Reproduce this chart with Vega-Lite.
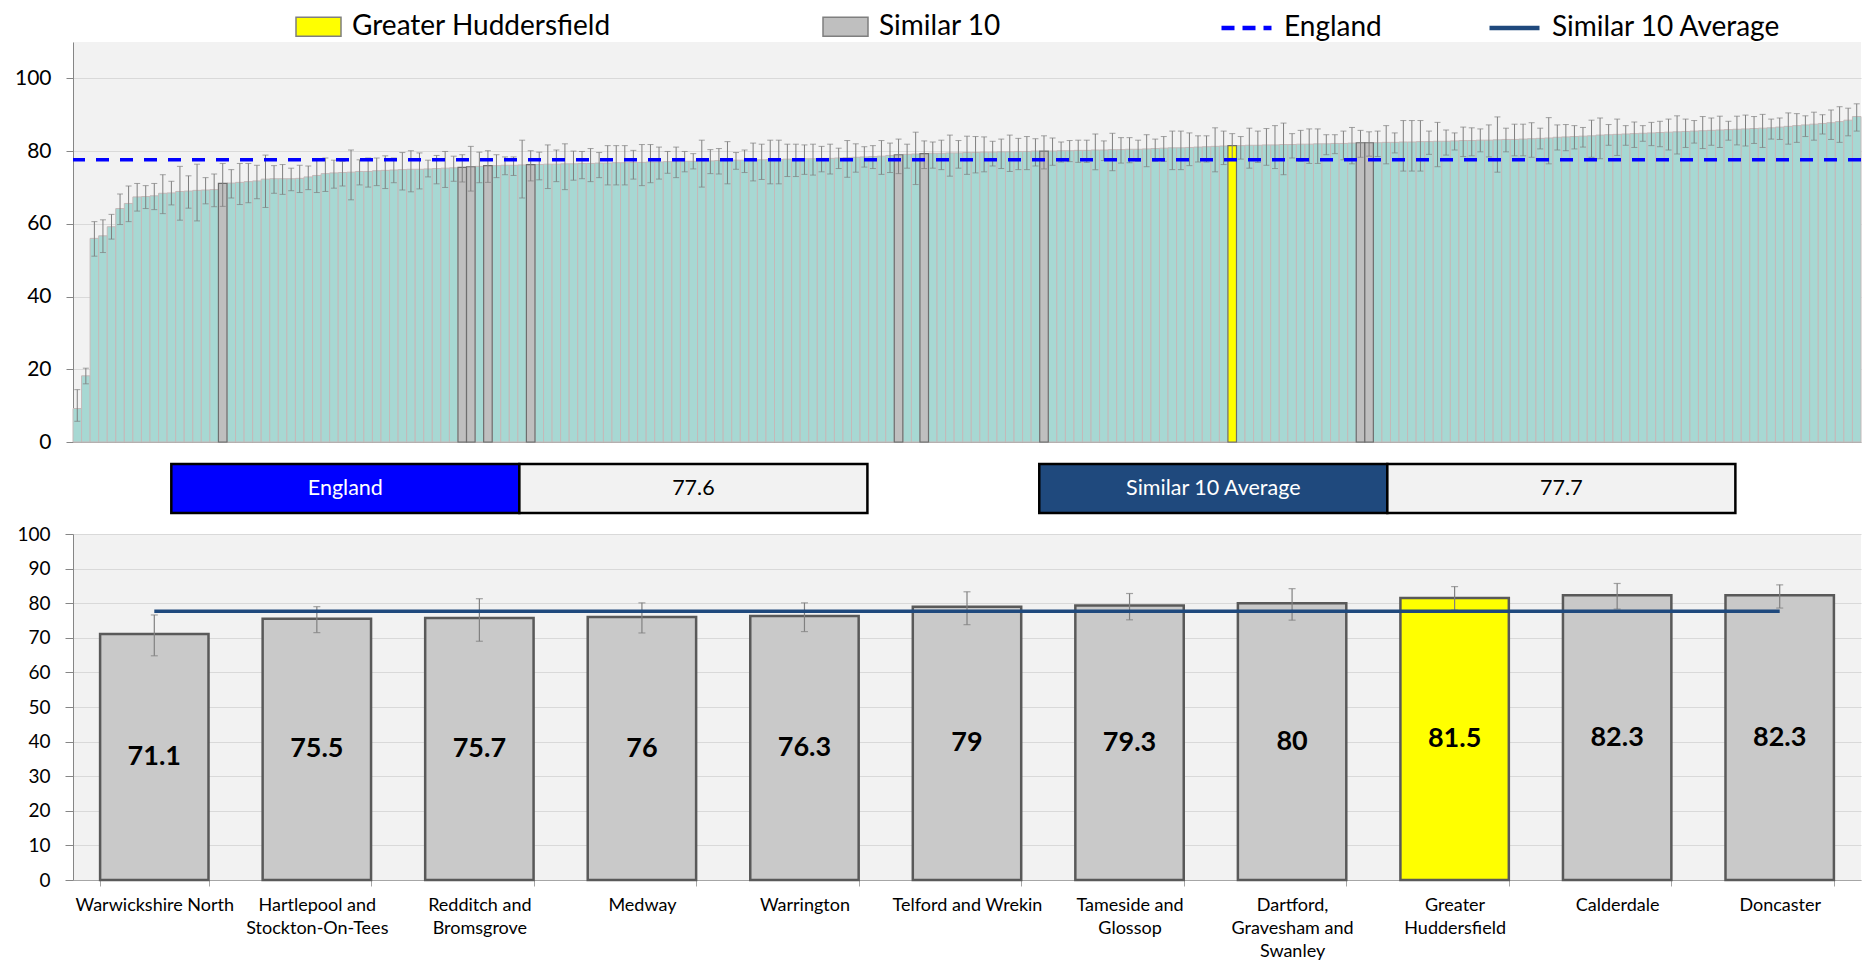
{
  "$schema": "https://vega.github.io/schema/vega-lite/v6.json",
  "background": "white",
  "padding": {"left": 14, "top": 0, "right": 0, "bottom": 0},
  "spacing": 10,
  "config": {
    "font": "Lato",
    "view": {"stroke": null, "fill": "#F2F2F2"},
    "axis": {"labelFont": "Lato", "labelColor": "#000000", "domainColor": "#868686", "tickColor": "#868686", "gridColor": "#D9D9D9"},
    "legend": {"labelFont": "Lato", "labelFontSize": 28, "labelColor": "#000000", "labelOffset": 10, "labelLimit": 600, "title": null, "orient": "none", "direction": "horizontal", "symbolOpacity": 1}
  },
  "datasets": {
    "benchmarks": [
      {"name": "England", "value": 77.6},
      {"name": "Similar 10 Average", "value": 77.7}
    ],
    "areas": [
      {"rank":1,"value":9.2,"lo":5.7,"hi":14.4},
      {"rank":2,"value":18.2,"lo":16.0,"hi":20.3},
      {"rank":3,"value":56.0,"lo":51.1,"hi":60.6},
      {"rank":4,"value":56.7,"lo":52.1,"hi":61.1},
      {"rank":5,"value":59.2,"lo":55.8,"hi":62.6},
      {"rank":6,"value":64.2,"lo":59.8,"hi":68.2},
      {"rank":7,"value":65.6,"lo":60.6,"hi":70.4},
      {"rank":8,"value":67.4,"lo":63.5,"hi":71.1},
      {"rank":9,"value":67.5,"lo":64.2,"hi":70.5},
      {"rank":10,"value":67.7,"lo":63.9,"hi":71.1},
      {"rank":11,"value":68.4,"lo":62.8,"hi":73.5},
      {"rank":12,"value":68.5,"lo":65.2,"hi":71.7},
      {"rank":13,"value":68.9,"lo":61.0,"hi":75.8},
      {"rank":14,"value":69.0,"lo":64.3,"hi":73.2},
      {"rank":15,"value":69.2,"lo":60.8,"hi":76.4},
      {"rank":16,"value":69.3,"lo":65.5,"hi":72.7},
      {"rank":17,"value":69.4,"lo":64.7,"hi":73.7},
      {"rank":18,"value":71.1,"lo":64.8,"hi":76.6,"area":"Warwickshire North","group":"Similar 10"},
      {"rank":19,"value":71.2,"lo":67.1,"hi":74.9},
      {"rank":20,"value":71.4,"lo":65.3,"hi":76.6},
      {"rank":21,"value":71.6,"lo":65.8,"hi":76.6},
      {"rank":22,"value":71.8,"lo":66.9,"hi":76.1},
      {"rank":23,"value":72.3,"lo":64.5,"hi":78.9},
      {"rank":24,"value":72.4,"lo":68.4,"hi":76.0},
      {"rank":25,"value":72.4,"lo":68.1,"hi":76.3},
      {"rank":26,"value":72.4,"lo":69.1,"hi":75.3},
      {"rank":27,"value":72.5,"lo":68.6,"hi":76.1},
      {"rank":28,"value":72.9,"lo":69.4,"hi":75.9},
      {"rank":29,"value":73.3,"lo":68.6,"hi":77.8},
      {"rank":30,"value":73.8,"lo":68.9,"hi":78.1},
      {"rank":31,"value":74.0,"lo":69.8,"hi":77.5},
      {"rank":32,"value":74.1,"lo":70.4,"hi":77.2},
      {"rank":33,"value":74.2,"lo":66.6,"hi":80.3},
      {"rank":34,"value":74.4,"lo":70.7,"hi":77.6},
      {"rank":35,"value":74.4,"lo":70.1,"hi":78.1},
      {"rank":36,"value":74.6,"lo":70.5,"hi":78.1},
      {"rank":37,"value":74.7,"lo":69.7,"hi":78.7},
      {"rank":38,"value":74.8,"lo":71.3,"hi":78.1},
      {"rank":39,"value":74.9,"lo":69.3,"hi":79.6},
      {"rank":40,"value":75.0,"lo":68.8,"hi":80.1},
      {"rank":41,"value":75.0,"lo":69.6,"hi":79.5},
      {"rank":42,"value":75.1,"lo":72.9,"hi":77.5},
      {"rank":43,"value":75.2,"lo":71.0,"hi":78.8},
      {"rank":44,"value":75.3,"lo":70.0,"hi":79.9},
      {"rank":45,"value":75.4,"lo":71.7,"hi":78.6},
      {"rank":46,"value":75.5,"lo":71.5,"hi":79.0,"area":"Hartlepool and Stockton-On-Tees","group":"Similar 10"},
      {"rank":47,"value":75.7,"lo":69.0,"hi":81.3,"area":"Redditch and Bromsgrove","group":"Similar 10"},
      {"rank":48,"value":75.8,"lo":71.3,"hi":79.7},
      {"rank":49,"value":76.0,"lo":71.4,"hi":80.1,"area":"Medway","group":"Similar 10"},
      {"rank":50,"value":76.0,"lo":72.7,"hi":79.0},
      {"rank":51,"value":76.1,"lo":73.5,"hi":78.4},
      {"rank":52,"value":76.1,"lo":73.3,"hi":78.4},
      {"rank":53,"value":76.2,"lo":67.1,"hi":83.0},
      {"rank":54,"value":76.3,"lo":71.8,"hi":80.1,"area":"Warrington","group":"Similar 10"},
      {"rank":55,"value":76.3,"lo":72.1,"hi":79.7},
      {"rank":56,"value":76.4,"lo":69.7,"hi":81.7},
      {"rank":57,"value":76.4,"lo":71.6,"hi":80.3},
      {"rank":58,"value":76.5,"lo":69.4,"hi":82.0},
      {"rank":59,"value":76.5,"lo":72.0,"hi":80.0},
      {"rank":60,"value":76.6,"lo":72.4,"hi":79.9},
      {"rank":61,"value":76.6,"lo":71.6,"hi":80.7},
      {"rank":62,"value":76.7,"lo":72.7,"hi":79.6},
      {"rank":63,"value":76.7,"lo":70.7,"hi":81.5},
      {"rank":64,"value":76.8,"lo":70.7,"hi":81.5},
      {"rank":65,"value":76.8,"lo":70.7,"hi":81.5},
      {"rank":66,"value":76.9,"lo":72.3,"hi":80.2},
      {"rank":67,"value":76.9,"lo":70.5,"hi":81.8},
      {"rank":68,"value":77.0,"lo":71.3,"hi":81.8},
      {"rank":69,"value":77.0,"lo":72.3,"hi":81.1},
      {"rank":70,"value":77.1,"lo":73.9,"hi":79.9},
      {"rank":71,"value":77.1,"lo":72.7,"hi":81.1},
      {"rank":72,"value":77.2,"lo":74.3,"hi":79.9},
      {"rank":73,"value":77.2,"lo":75.1,"hi":79.3},
      {"rank":74,"value":77.3,"lo":70.1,"hi":83.0},
      {"rank":75,"value":77.3,"lo":73.8,"hi":80.4},
      {"rank":76,"value":77.4,"lo":73.7,"hi":80.7},
      {"rank":77,"value":77.4,"lo":71.0,"hi":82.6},
      {"rank":78,"value":77.5,"lo":75.0,"hi":79.6},
      {"rank":79,"value":77.5,"lo":74.1,"hi":80.3},
      {"rank":80,"value":77.6,"lo":71.8,"hi":82.2},
      {"rank":81,"value":77.6,"lo":72.2,"hi":81.9},
      {"rank":82,"value":77.7,"lo":71.0,"hi":83.0},
      {"rank":83,"value":77.7,"lo":71.0,"hi":83.0},
      {"rank":84,"value":77.8,"lo":73.0,"hi":81.9},
      {"rank":85,"value":77.8,"lo":73.0,"hi":81.9},
      {"rank":86,"value":77.9,"lo":73.6,"hi":81.7},
      {"rank":87,"value":77.9,"lo":73.4,"hi":81.9},
      {"rank":88,"value":78.0,"lo":74.3,"hi":81.3},
      {"rank":89,"value":78.0,"lo":73.7,"hi":81.9},
      {"rank":90,"value":78.1,"lo":75.2,"hi":80.8},
      {"rank":91,"value":78.2,"lo":72.8,"hi":82.9},
      {"rank":92,"value":78.3,"lo":74.2,"hi":82.0},
      {"rank":93,"value":78.4,"lo":75.6,"hi":81.2},
      {"rank":94,"value":78.5,"lo":75.2,"hi":81.5},
      {"rank":95,"value":78.6,"lo":73.6,"hi":82.9},
      {"rank":96,"value":78.8,"lo":74.1,"hi":82.2},
      {"rank":97,"value":79.0,"lo":73.8,"hi":83.3,"area":"Telford and Wrekin","group":"Similar 10"},
      {"rank":98,"value":79.1,"lo":75.3,"hi":81.9},
      {"rank":99,"value":79.2,"lo":70.8,"hi":85.2},
      {"rank":100,"value":79.3,"lo":75.2,"hi":82.8,"area":"Tameside and Glossop","group":"Similar 10"},
      {"rank":101,"value":79.4,"lo":75.3,"hi":82.5},
      {"rank":102,"value":79.4,"lo":74.9,"hi":83.0},
      {"rank":103,"value":79.5,"lo":73.1,"hi":84.4},
      {"rank":104,"value":79.5,"lo":75.3,"hi":82.9},
      {"rank":105,"value":79.6,"lo":73.6,"hi":84.1},
      {"rank":106,"value":79.6,"lo":74.0,"hi":84.0},
      {"rank":107,"value":79.7,"lo":74.3,"hi":83.9},
      {"rank":108,"value":79.7,"lo":75.9,"hi":82.7},
      {"rank":109,"value":79.8,"lo":75.2,"hi":83.3},
      {"rank":110,"value":79.8,"lo":74.4,"hi":84.4},
      {"rank":111,"value":79.9,"lo":74.9,"hi":83.5},
      {"rank":112,"value":79.9,"lo":74.9,"hi":84.0},
      {"rank":113,"value":80.0,"lo":75.9,"hi":83.4},
      {"rank":114,"value":80.0,"lo":75.1,"hi":84.2,"area":"Dartford, Gravesham and Swanley","group":"Similar 10"},
      {"rank":115,"value":80.0,"lo":76.1,"hi":83.6},
      {"rank":116,"value":80.1,"lo":77.0,"hi":82.5},
      {"rank":117,"value":80.1,"lo":77.1,"hi":82.9},
      {"rank":118,"value":80.2,"lo":76.9,"hi":83.0},
      {"rank":119,"value":80.2,"lo":76.9,"hi":83.0},
      {"rank":120,"value":80.3,"lo":74.9,"hi":84.7},
      {"rank":121,"value":80.3,"lo":77.4,"hi":82.8},
      {"rank":122,"value":80.4,"lo":74.6,"hi":84.9},
      {"rank":123,"value":80.4,"lo":76.7,"hi":83.7},
      {"rank":124,"value":80.5,"lo":76.8,"hi":83.7},
      {"rank":125,"value":80.5,"lo":77.2,"hi":83.0},
      {"rank":126,"value":80.6,"lo":75.7,"hi":84.5},
      {"rank":127,"value":80.7,"lo":77.2,"hi":83.3},
      {"rank":128,"value":80.8,"lo":77.2,"hi":84.0},
      {"rank":129,"value":80.9,"lo":74.9,"hi":85.5},
      {"rank":130,"value":80.9,"lo":74.9,"hi":85.5},
      {"rank":131,"value":81.0,"lo":76.0,"hi":85.0},
      {"rank":132,"value":81.1,"lo":77.0,"hi":84.2},
      {"rank":133,"value":81.2,"lo":77.0,"hi":84.2},
      {"rank":134,"value":81.3,"lo":74.3,"hi":86.4},
      {"rank":135,"value":81.4,"lo":76.3,"hi":85.5},
      {"rank":136,"value":81.5,"lo":78.0,"hi":84.8,"area":"Greater Huddersfield","group":"Greater Huddersfield"},
      {"rank":137,"value":81.5,"lo":77.8,"hi":84.0},
      {"rank":138,"value":81.6,"lo":75.3,"hi":86.3},
      {"rank":139,"value":81.6,"lo":76.9,"hi":85.5},
      {"rank":140,"value":81.7,"lo":76.1,"hi":86.2},
      {"rank":141,"value":81.7,"lo":75.2,"hi":87.0},
      {"rank":142,"value":81.8,"lo":73.5,"hi":87.7},
      {"rank":143,"value":81.8,"lo":78.1,"hi":84.8},
      {"rank":144,"value":81.9,"lo":77.2,"hi":85.7},
      {"rank":145,"value":81.9,"lo":76.6,"hi":86.1},
      {"rank":146,"value":82.0,"lo":76.6,"hi":86.1},
      {"rank":147,"value":82.0,"lo":79.0,"hi":84.5},
      {"rank":148,"value":82.1,"lo":79.3,"hi":84.5},
      {"rank":149,"value":82.1,"lo":77.6,"hi":85.5},
      {"rank":150,"value":82.2,"lo":76.5,"hi":86.5},
      {"rank":151,"value":82.3,"lo":78.3,"hi":85.7,"area":"Calderdale","group":"Similar 10"},
      {"rank":152,"value":82.3,"lo":78.6,"hi":85.3,"area":"Doncaster","group":"Similar 10"},
      {"rank":153,"value":82.3,"lo":78.5,"hi":85.5},
      {"rank":154,"value":82.4,"lo":76.5,"hi":87.0},
      {"rank":155,"value":82.4,"lo":79.5,"hi":85.0},
      {"rank":156,"value":82.5,"lo":74.5,"hi":88.4},
      {"rank":157,"value":82.5,"lo":74.5,"hi":88.4},
      {"rank":158,"value":82.6,"lo":74.5,"hi":88.4},
      {"rank":159,"value":82.6,"lo":79.1,"hi":85.5},
      {"rank":160,"value":82.7,"lo":75.7,"hi":87.9},
      {"rank":161,"value":82.7,"lo":78.9,"hi":85.8},
      {"rank":162,"value":82.8,"lo":80.3,"hi":85.0},
      {"rank":163,"value":82.9,"lo":78.5,"hi":86.6},
      {"rank":164,"value":82.9,"lo":78.7,"hi":86.4},
      {"rank":165,"value":83.0,"lo":79.8,"hi":86.1},
      {"rank":166,"value":83.0,"lo":78.4,"hi":87.2},
      {"rank":167,"value":83.1,"lo":74.2,"hi":89.4},
      {"rank":168,"value":83.2,"lo":79.8,"hi":86.3},
      {"rank":169,"value":83.2,"lo":78.7,"hi":87.4},
      {"rank":170,"value":83.3,"lo":78.7,"hi":87.4},
      {"rank":171,"value":83.4,"lo":78.3,"hi":87.8},
      {"rank":172,"value":83.5,"lo":80.6,"hi":86.3},
      {"rank":173,"value":83.6,"lo":76.5,"hi":89.2},
      {"rank":174,"value":83.8,"lo":80.3,"hi":87.2},
      {"rank":175,"value":83.9,"lo":80.1,"hi":87.3},
      {"rank":176,"value":84.0,"lo":80.6,"hi":87.0},
      {"rank":177,"value":84.1,"lo":81.1,"hi":86.5},
      {"rank":178,"value":84.2,"lo":78.3,"hi":88.5},
      {"rank":179,"value":84.4,"lo":77.9,"hi":89.1},
      {"rank":180,"value":84.5,"lo":81.6,"hi":87.3},
      {"rank":181,"value":84.6,"lo":78.8,"hi":88.8},
      {"rank":182,"value":84.7,"lo":81.6,"hi":87.0},
      {"rank":183,"value":84.8,"lo":81.0,"hi":88.0},
      {"rank":184,"value":84.9,"lo":82.7,"hi":87.0},
      {"rank":185,"value":85.0,"lo":81.5,"hi":87.9},
      {"rank":186,"value":85.1,"lo":81.2,"hi":88.2},
      {"rank":187,"value":85.2,"lo":80.3,"hi":88.8},
      {"rank":188,"value":85.3,"lo":79.2,"hi":89.7},
      {"rank":189,"value":85.4,"lo":81.0,"hi":88.8},
      {"rank":190,"value":85.5,"lo":82.2,"hi":88.4},
      {"rank":191,"value":85.6,"lo":80.7,"hi":89.5},
      {"rank":192,"value":85.7,"lo":81.6,"hi":89.1},
      {"rank":193,"value":85.8,"lo":81.0,"hi":89.6},
      {"rank":194,"value":85.9,"lo":83.0,"hi":88.2},
      {"rank":195,"value":86.0,"lo":81.7,"hi":89.6},
      {"rank":196,"value":86.1,"lo":81.4,"hi":89.9},
      {"rank":197,"value":86.2,"lo":82.1,"hi":89.5},
      {"rank":198,"value":86.3,"lo":81.0,"hi":90.1},
      {"rank":199,"value":86.4,"lo":83.3,"hi":88.8},
      {"rank":200,"value":86.6,"lo":83.2,"hi":89.1},
      {"rank":201,"value":86.8,"lo":81.9,"hi":90.5},
      {"rank":202,"value":87.0,"lo":82.4,"hi":90.3},
      {"rank":203,"value":87.2,"lo":84.0,"hi":89.7},
      {"rank":204,"value":87.4,"lo":83.0,"hi":90.7},
      {"rank":205,"value":87.6,"lo":84.7,"hi":90.0},
      {"rank":206,"value":87.8,"lo":83.2,"hi":91.3},
      {"rank":207,"value":88.1,"lo":82.4,"hi":92.2},
      {"rank":208,"value":88.5,"lo":84.2,"hi":91.8},
      {"rank":209,"value":89.5,"lo":85.5,"hi":93.0}
    ]
  },
  "vconcat": [
    {
      "width": 1788,
      "height": 400,
      "encoding": {
        "x": {"field": "rank", "type": "ordinal", "scale": {"paddingInner": 0, "paddingOuter": 0}, "axis": {"labels": false, "ticks": false, "title": null, "domainColor": "#A6A6A6"}}
      },
      "layer": [
        {
          "data": {"name": "areas"},
          "transform": [{"filter": "!isValid(datum.area)"}],
          "mark": {"type": "bar", "color": "#A7D8D3", "stroke": "#C4B9B9", "strokeWidth": 1},
          "encoding": {
            "y": {"field": "value", "type": "quantitative", "scale": {"domain": [0, 110], "nice": false},
              "axis": {"values": [0, 20, 40, 60, 80, 100], "title": null, "labelFontSize": 21, "tickSize": 7, "labelPadding": 15, "grid": true}}
          }
        },
        {
          "data": {"name": "areas"},
          "transform": [{"filter": "isValid(datum.area)"}],
          "mark": {"type": "bar", "stroke": "#6E6E6E", "strokeWidth": 1.2},
          "encoding": {
            "y": {"field": "value", "type": "quantitative"},
            "color": {
              "field": "group", "type": "nominal",
              "scale": {"domain": ["Greater Huddersfield", "Similar 10"], "range": ["#FFFF00", "#BFBFBF"]},
              "legend": {
                "orient": "none", "legendX": 222, "legendY": -39, "direction": "horizontal", "title": null,
                "symbolType": "M-1,-0.42L1,-0.42L1,0.42L-1,0.42Z", "symbolSize": 2025,
                "symbolStrokeColor": "#7F7F7F", "symbolStrokeWidth": 1.5, "columnPadding": 209
              }
            }
          }
        },
        {
          "data": {"name": "areas"},
          "mark": {"type": "rule", "color": "#7F7F7F", "strokeWidth": 1},
          "encoding": {"y": {"field": "lo", "type": "quantitative"}, "y2": {"field": "hi"}}
        },
        {
          "data": {"name": "areas"},
          "mark": {"type": "tick", "color": "#7F7F7F", "size": 6, "thickness": 1},
          "encoding": {"y": {"field": "hi", "type": "quantitative"}}
        },
        {
          "data": {"name": "areas"},
          "mark": {"type": "tick", "color": "#7F7F7F", "size": 6, "thickness": 1},
          "encoding": {"y": {"field": "lo", "type": "quantitative"}}
        },
        {
          "data": {"name": "benchmarks"},
          "transform": [{"filter": "datum.name === 'England'"}],
          "mark": {"type": "rule", "strokeWidth": 3.5, "strokeDash": [13, 11]},
          "encoding": {
            "x": null,
            "y": {"field": "value", "type": "quantitative"},
            "stroke": {
              "field": "name", "type": "nominal",
              "scale": {"domain": ["England"], "range": ["#0000FF"]},
              "legend": {
                "orient": "none", "legendX": 1146, "legendY": -41.5, "direction": "horizontal", "title": null,
                "symbolType": "stroke", "symbolSize": 2500, "symbolStrokeWidth": 4.5, "symbolDash": [13, 8]
              }
            }
          }
        },
        {
          "data": {"name": "benchmarks"},
          "transform": [{"filter": "datum.name === 'Similar 10 Average'"}],
          "mark": {"type": "rule", "color": "#1F497D", "strokeWidth": 4.5},
          "encoding": {
            "x": {"datum": 1, "type": "ordinal"},
            "x2": {"datum": 1},
            "y": {"field": "value", "type": "quantitative"},
            "strokeDash": {
              "field": "name", "type": "nominal",
              "scale": {"domain": ["Similar 10 Average"], "range": [[1, 0]]},
              "legend": {
                "orient": "none", "legendX": 1414, "legendY": -41.5, "direction": "horizontal", "title": null,
                "symbolType": "stroke", "symbolSize": 2500, "symbolStrokeColor": "#1F497D", "symbolStrokeWidth": 4.5
              }
            }
          }
        }
      ]
    },
    {
      "width": 1788,
      "height": 49,
      "view": {"fill": "#FFFFFF", "stroke": null},
      "data": {"name": "benchmarks"},
      "transform": [{"fold": ["name", "value"], "as": ["part", "cell"]}],
      "encoding": {
        "x": {"field": "name", "type": "nominal", "axis": null, "sort": null, "scale": {"paddingInner": 0.198, "paddingOuter": 0.129, "align": 0.439}},
        "xOffset": {"field": "part", "type": "nominal", "scale": {"domain": ["name", "value"], "paddingInner": 0, "paddingOuter": 0}}
      },
      "layer": [
        {
          "mark": {"type": "bar", "stroke": "#000000", "strokeWidth": 2.5},
          "encoding": {
            "color": {"condition": {"test": "datum.part === 'value'", "value": "#F2F2F2"}, "field": "name", "type": "nominal",
              "scale": {"domain": ["England", "Similar 10 Average"], "range": ["#0000FF", "#1F497D"]}, "legend": null}
          }
        },
        {
          "mark": {"type": "text", "font": "Lato", "fontSize": 21.5},
          "encoding": {
            "text": {"field": "cell", "type": "nominal"},
            "color": {"condition": {"test": "datum.part === 'value'", "value": "#000000"}, "value": "#FFFFFF"}
          }
        }
      ]
    },
    {
      "width": 1788,
      "height": 346,
      "encoding": {
        "x": {
          "field": "area", "type": "nominal",
          "scale": {"domain": ["Warwickshire North", "Hartlepool and Stockton-On-Tees", "Redditch and Bromsgrove", "Medway", "Warrington", "Telford and Wrekin", "Tameside and Glossop", "Dartford, Gravesham and Swanley", "Greater Huddersfield", "Calderdale", "Doncaster"], "paddingInner": 0.333, "paddingOuter": 0.1667},
          "axis": {
            "title": null, "labelAngle": 0, "labelFontSize": 18, "labelLineHeight": 23, "labelPadding": 10, "labelOverlap": false, "labelLimit": 0,
            "tickBand": "extent", "tickSize": 6, "domainColor": "#A6A6A6", "tickColor": "#A6A6A6",
            "labelExpr": "datum.value === 'Hartlepool and Stockton-On-Tees' ? ['Hartlepool and', 'Stockton-On-Tees'] : datum.value === 'Redditch and Bromsgrove' ? ['Redditch and', 'Bromsgrove'] : datum.value === 'Tameside and Glossop' ? ['Tameside and', 'Glossop'] : datum.value === 'Dartford, Gravesham and Swanley' ? ['Dartford,', 'Gravesham and', 'Swanley'] : datum.value === 'Greater Huddersfield' ? ['Greater', 'Huddersfield'] : datum.label"
          }
        }
      },
      "layer": [
        {
          "encoding": {
            "y": {"field": "value", "type": "quantitative", "scale": {"domain": [0, 100], "nice": false},
              "axis": {"values": [0, 10, 20, 30, 40, 50, 60, 70, 80, 90, 100], "labelOverlap": false, "labelBound": false, "labelSeparation": 0, "title": null, "labelFontSize": 19, "tickSize": 8, "labelPadding": 15, "grid": true}}
          },
          "layer": [
            {
              "data": {"name": "areas"},
              "transform": [{"filter": "isValid(datum.area)"}],
              "mark": {"type": "bar", "stroke": "#595959", "strokeWidth": 2.5},
              "encoding": {
                "color": {"field": "group", "type": "nominal", "scale": {"domain": ["Greater Huddersfield", "Similar 10"], "range": ["#FFFF00", "#C9C9C9"]}, "legend": null}
              }
            },
            {
              "data": {"name": "areas"},
              "transform": [{"filter": "isValid(datum.area)"}],
              "mark": {"type": "rule", "color": "#808080", "strokeWidth": 1.2},
              "encoding": {"y": {"field": "lo", "type": "quantitative"}, "y2": {"field": "hi"}}
            },
            {
              "data": {"name": "areas"},
              "transform": [{"filter": "isValid(datum.area)"}],
              "mark": {"type": "tick", "color": "#808080", "size": 7, "thickness": 1.2},
              "encoding": {"y": {"field": "hi", "type": "quantitative"}}
            },
            {
              "data": {"name": "areas"},
              "transform": [{"filter": "isValid(datum.area)"}],
              "mark": {"type": "tick", "color": "#808080", "size": 7, "thickness": 1.2},
              "encoding": {"y": {"field": "lo", "type": "quantitative"}}
            },
            {
              "data": {"name": "benchmarks"},
              "transform": [{"filter": "datum.name === 'Similar 10 Average'"}],
              "mark": {"type": "rule", "color": "#1F497D", "strokeWidth": 3.5},
              "encoding": {
                "x": {"datum": "Warwickshire North", "type": "nominal"},
                "x2": {"datum": "Doncaster"}
              }
            }
          ]
        },
        {
          "data": {"name": "areas"},
          "transform": [{"filter": "isValid(datum.area)"}],
          "mark": {"type": "text", "font": "Lato", "fontSize": 27, "fontWeight": "bold", "color": "#000000"},
          "encoding": {
            "y": {"field": "value", "type": "quantitative", "scale": {"domain": [0, 200], "nice": false}, "axis": null},
            "text": {"field": "value", "type": "nominal"}
          }
        }
      ],
      "resolve": {"scale": {"y": "independent"}}
    }
  ],
  "resolve": {"scale": {"color": "independent", "x": "independent", "y": "independent"}, "legend": {"color": "independent"}}
}
